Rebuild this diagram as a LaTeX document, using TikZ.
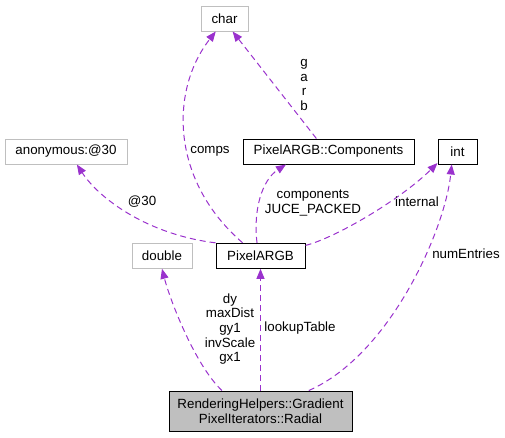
\documentclass[tikz,border=0pt]{standalone}
\usepackage{fontspec}
\setmainfont{Liberation Sans}
\usetikzlibrary{arrows.meta}
\definecolor{edgepurple}{HTML}{9A32CD}
\definecolor{boxgray}{HTML}{BFBFBF}
\tikzset{
    cls/.style={draw=black, line width=0.75pt, inner sep=0pt, minimum height=18.75pt, font=\fontsize{10}{11}\selectfont},
    ext/.style={cls, draw=boxgray},
    member/.style={edgepurple, line width=0.75pt, dash pattern=on 4.5pt off 3pt, -{Triangle[length=7.5pt,width=6pt]}},
    lbl/.style={align=center, inner sep=0pt, font=\fontsize{10}{11}\selectfont}
}
\begin{document}
\begin{tikzpicture}[x=0.75pt, y=-0.75pt]
    \useasboundingbox (0,0) rectangle (505,437);
    \node[ext, minimum width=35.25pt] at (224.5,18.5) (char) {char};
    \node[ext, minimum width=91.5pt] at (66,151.5) (anon) {anonymous:@30};
    \node[cls, minimum width=128.25pt] at (328.5,151.5) (comp) {PixelARGB::Components};
    \node[cls, minimum width=29.25pt] at (457.5,151.5) (int) {int};
    \node[ext, minimum width=45pt] at (162,255.8) (double) {double};
    \node[cls, minimum width=66.75pt] at (260.5,255.8) (argb) {PixelARGB};
    \node[cls, fill=boxgray, align=center, minimum width=137.25pt, minimum height=30pt] at (260.5,411) (radial)
        {RenderingHelpers::Gradient\\PixelIterators::Radial};

    \draw[member] (radial.152) .. controls (195,365) and (170,300) .. (double.south);
    \draw[member] (radial.north) -- (argb.south);
    \draw[member] (radial.23) .. controls (390,355) and (445,230) .. (int.246);
    \draw[member] (argb.north west) .. controls (150,235) and (100,200) .. (anon.310);
    \draw[member] (argb.144) .. controls (170,180) and (170,90) .. (char.236);
    \draw[member] (argb.105) .. controls (253,210) and (262,180) .. (comp.197);
    \draw[member] (argb.13) .. controls (335,238) and (400,200) .. (int.210);
    \draw[member] (comp.133) -- (char.302);

    \node[lbl] at (304,85) (lblgarb) {g\\a\\r\\b};
    \node[lbl] at (210,151) (lblcomps) {comps};
    \node[lbl] at (142,202) (lblanon) {@30};
    \node[lbl] at (313,203) (lblcomp) {components\\JUCE\_PACKED};
    \node[lbl] at (417,202) (lblinternal) {internal};
    \node[lbl] at (466,254) (lblnum) {numEntries};
    \node[lbl] at (230,329) (lbldouble) {dy\\maxDist\\gy1\\invScale\\gx1};
    \node[lbl] at (300,328) (lbllookup) {lookupTable};
\end{tikzpicture}
\end{document}
